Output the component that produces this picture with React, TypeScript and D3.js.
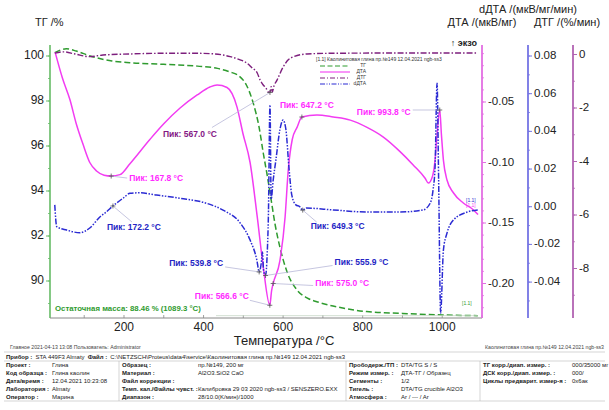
import React from 'react';
import * as d3 from 'd3';

type P = [number, number];

// ТГ, % (temperature °C, value)
const tgPoints: P[] = [
  [26, 100.15], [55, 100.32], [80, 100.22], [115, 100.0], [170, 99.78], [215, 99.7],
  [300, 99.63], [385, 99.55], [435, 99.45], [465, 99.3], [490, 99.1], [508, 98.7],
  [525, 97.9], [540, 96.8], [550, 95.7], [560, 94.7], [570, 93.6], [580, 92.5],
  [592, 91.5], [610, 90.4], [635, 89.6], [660, 89.25], [690, 89.05], [750, 88.8],
  [810, 88.64], [900, 88.56], [1000, 88.49], [1089.3, 88.46],
];

// ДТА, мкВ/мг
const dtaPoints: P[] = [
  [27, -0.009], [45, -0.03], [64, -0.048], [80, -0.068], [97, -0.085], [114, -0.1],
  [131, -0.107], [150, -0.1105], [167.8, -0.1112], [190, -0.11], [215, -0.101],
  [265, -0.081], [300, -0.068], [341, -0.055], [384, -0.0442], [416, -0.0376],
  [434, -0.036], [459, -0.038], [484, -0.054], [499, -0.076], [517, -0.1],
  [535, -0.145], [550, -0.186], [566.6, -0.218], [571, -0.206], [575, -0.2],
  [592, -0.181], [605, -0.145], [613, -0.106], [623, -0.081], [635, -0.071],
  [647.2, -0.0624], [685, -0.0607], [726, -0.0624], [769, -0.065], [811, -0.071],
  [852, -0.079], [894, -0.091], [927, -0.102], [957, -0.113], [965, -0.117],
  [975, -0.112], [982, -0.098], [987, -0.077], [993.8, -0.0566], [998, -0.077],
  [1003, -0.098], [1012, -0.1145], [1028, -0.125], [1053, -0.1335], [1078, -0.139],
  [1090, -0.143],
];

// ДТГ, %/мин
const dtgPoints: P[] = [
  [26, 0.05], [47, 0.1], [77, 0.02], [114, -0.08], [147, -0.02], [215, 0.02],
  [298, 0.045], [384, 0.045], [429, 0.02], [467, -0.08], [492, -0.2], [509, -0.32],
  [522, -0.5], [535, -0.69], [542, -0.95], [550, -1.14], [557, -1.25], [562, -1.4],
  [567, -1.42], [570, -1.2], [573, -1.4], [577, -1.18], [585, -0.95], [600, -0.47],
  [613, -0.2], [625, -0.09], [660, 0.02], [718, 0.045], [894, 0.056], [1090, 0.056],
];

// dДТА, мкВ/мг/мин
const ddtaPoints: P[] = [
  [26, 0.001], [31, -0.0106], [56, -0.0124], [89, -0.0138], [114, -0.0113],
  [140, -0.0053], [156, -0.0027], [172.2, 0.0004], [198, 0.0046], [215, 0.0071],
  [240, 0.0074], [282, 0.0062], [341, 0.0045], [408, 0.0018], [449, -0.0018],
  [492, -0.0086], [517, -0.0177], [534, -0.0283], [539.8, -0.0346], [545, -0.03],
  [548, -0.024], [551, -0.034], [555.9, -0.0365], [560, -0.025], [563, -0.005],
  [567, 0.054], [570, 0.004], [575, 0.014], [582, 0.025], [592, 0.041], [600, 0.046],
  [607, 0.041], [615, 0.02], [622, 0.006], [632, 0.001], [642, 0.0], [649.3, -0.0018],
  [658, -0.0007], [726, -0.0017], [811, -0.0028], [894, -0.0028], [952, -0.0017],
  [970, 0.002], [977, 0.009], [982, 0.021], [987, 0.0656], [991, 0.014],
  [996, -0.0564], [1003, -0.023], [1012, -0.014], [1028, -0.0071], [1063, -0.0028],
  [1090, -0.0017],
];

const dtaPeaks = [167.8, 566.6, 575.0, 647.2, 993.8];
const ddtaPeaks = [172.2, 539.8, 555.9, 649.3];
const dtgPeaks = [567.0];
const residualMass = { value: 88.46, temp: 1089.3 };

const xTickLabels = [200, 400, 600, 800, 1000];
const xTicks = [100, 200, 300, 400, 500, 600, 700, 800, 900, 1000, 1100];
const tgTicks = [90, 92, 94, 96, 98, 100];
const dtaTicks = [-0.2, -0.15, -0.1, -0.05];
const ddtaTicks = [-0.04, -0.02, 0.0, 0.02, 0.04, 0.06, 0.08];
const dtgTicks = [-8, -6, -4, -2, 0];

const legendTitle = '[1.1] Каолинитовая глина пр.№149   12.04.2021 ngb-ss3';
const legendNames = ['ТГ', 'ДТА', 'ДТГ', 'dДТА'];

const footerLeft = 'Главное   2021-04-13 13:08   Пользователь: Administrator';
const footerRight = 'Каолинитовая глина пр.№149   12.04.2021 ngb-ss3';
const deviceRow = ['Прибор :', 'STA 449F3 Almaty', 'Файл :', 'C:\\NETZSCH\\Proteus\\data4\\service\\Каолинитовая глина пр.№149   12.04.2021 ngb-ss3'];
const col1Labels = ['Проект :', 'Код образца :', 'Дата/время :', 'Лаборатория :', 'Оператор :'];
const col1Values = ['Глина', 'Глина каолин', '12.04.2021 10:23:08', 'Almaty', 'Марина'];
const col2Labels = ['Образец :', 'Материал :', 'Файл коррекции :', 'Темп. кал./Файлы чувст. :', 'Диапазон :'];
const col2Values = ['пр.№149, 200 мг', 'Al2O3.SiO2 CaO', '', 'Калибровка 29 03 2020 ngb-ss3 / SENSZERO.EXX', '28/10.0(K/мин)/1000'];
const col3Labels = ['Прободерж./ТП :', 'Режим измер. :', 'Сегменты :', 'Тигель :', 'Атмосфера :'];
const col3Values = ['DTA/TG S / S', 'ДТА-ТГ / Образец', '1/2', 'DTA/TG crucible Al2O3', 'Ar / --- / Ar'];
const col4Labels = ['ТГ корр./диап. измер. :', 'ДСК корр./диап. измер. :', 'Циклы предварит. измер-я :'];
const col4Values = ['000/35000 мг', '000/', '0х6ак'];

const C = {
  tg: '#2f9b2f',
  dta: '#f23cf2',
  dtg: '#7d1f7d',
  ddta: '#2b2bd3',
  tgAxis: '#66bb66',
  dtaAxis: '#e36ee3',
  ddtaAxis: '#7474e4',
  dtgAxis: '#b263b2',
  dtaLbl: '#ff2bff',
  ddtaLbl: '#2424c4',
  dtgLbl: '#841684',
  leader: '#b8b8d8',
};

const FONT = 'Liberation Sans, Arial, Helvetica, sans-serif';
const top = 45;
const bottom = 318;

const x = d3.scaleLinear().domain([14, 1100]).range([50, 482]);
const yTG = d3.scaleLinear().domain([90, 100]).range([281, 56]);
const yDTA = d3.scaleLinear().domain([-0.2, -0.05]).range([283.5, 102]);
const yDD = d3.scaleLinear().domain([-0.04, 0.08]).range([282.1, 56]);
const yDTG = d3.scaleLinear().domain([-8, 0]).range([268.5, 54.5]);

function at(points: P[], t: number): number {
  const i = d3.bisector((d: P) => d[0]).left(points, t);
  if (i <= 0) return points[0][1];
  if (i >= points.length) return points[points.length - 1][1];
  const a = points[i - 1], b = points[i];
  if (b[0] === t) return b[1];
  return a[1] + ((t - a[0]) / (b[0] - a[0])) * (b[1] - a[1]);
}

const pathFor = (pts: P[], ys: d3.ScaleLinear<number, number>) =>
  d3.line<P>().x(d => x(d[0])).y(d => ys(d[1])).curve(d3.curveMonotoneX)(pts) || '';

const fmt2 = (v: number) => v.toFixed(2).replace('−', '-');

// label placement relative to the marked peak: dx, dy, anchor, leader end
const peakLayout: Record<string, { dx: number; dy: number; anchor: string; lx: number; ly: number }> = {
  'dta167.8': { dx: 18, dy: 3, anchor: 'start', lx: 16, ly: 2 },
  'dta566.6': { dx: -21, dy: -9, anchor: 'end', lx: -20, ly: -5 },
  'dta575': { dx: 42, dy: 0, anchor: 'start', lx: 40, ly: 2 },
  'dta647.2': { dx: -22, dy: -11, anchor: 'start', lx: 0, ly: 0 },
  'dta993.8': { dx: -29, dy: 3, anchor: 'end', lx: -27, ly: 0 },
  'dtg567': { dx: -107, dy: 42, anchor: 'start', lx: -58, ly: 35 },
  'ddta172.2': { dx: -6, dy: 22, anchor: 'start', lx: 19, ly: 16 },
  'ddta539.8': { dx: -36, dy: -8, anchor: 'end', lx: -34, ly: -5 },
  'ddta555.9': { dx: 69, dy: -13, anchor: 'start', lx: 67, ly: -10 },
  'ddta649.3': { dx: 8, dy: 17, anchor: 'start', lx: 14, ly: 12 },
};

function Peak({ id, t, points, ys, color }: { id: string; t: number; points: P[]; ys: d3.ScaleLinear<number, number>; color: string }) {
  const px = x(t);
  const py = ys(at(points, t));
  const L = peakLayout[id];
  return (
    <g>
      {(L.lx !== 0 || L.ly !== 0) && (
        <line x1={px} y1={py} x2={px + L.lx} y2={py + L.ly} stroke={C.leader} strokeWidth={0.8} />
      )}
      <path d={`M${px - 2.5},${py}H${px + 2.5}M${px},${py - 2.5}V${py + 2.5}`} stroke="#555" strokeWidth={0.8} />
      <text x={px + L.dx} y={py + L.dy} textAnchor={L.anchor} dominantBaseline="middle"
        fontSize={8.5} fontWeight="bold" fill={color}>
        {`Пик: ${t.toFixed(1)} °C`}
      </text>
    </g>
  );
}

function RightAxis({ ax, scale, ticks, minorStep, color }: { ax: number; scale: d3.ScaleLinear<number, number>; ticks: number[]; minorStep: number; color: string }) {
  const dom = [scale.invert(bottom), scale.invert(top)];
  const minor = d3.range(Math.ceil(dom[0] / minorStep) * minorStep, dom[1], minorStep);
  const dec = minorStep < 0.1 ? 2 : 0;
  return (
    <g>
      <line x1={ax} y1={top} x2={ax} y2={bottom} stroke={color} strokeWidth={1.8} />
      {minor.map((m, i) => (
        <line key={'m' + i} x1={ax} x2={ax + 2} y1={scale(m)} y2={scale(m)} stroke={color} strokeWidth={0.8} />
      ))}
      {ticks.map(t => (
        <g key={t}>
          <line x1={ax} x2={ax + 4} y1={scale(t)} y2={scale(t)} stroke={color} strokeWidth={1} />
          <text x={ax + 6} y={scale(t)} dominantBaseline="middle" fontSize={11.5} fill="#222">
            {dec ? fmt2(t) : String(t)}
          </text>
        </g>
      ))}
    </g>
  );
}

export default function App() {
  const tgMinor = d3.range(89, 101, 1);
  const legendStyles = [
    { c: C.tg, dash: '5,2.5' },
    { c: C.dta, dash: '' },
    { c: C.dtg, dash: '5,2,1,2' },
    { c: C.ddta, dash: '5,1.5,1,1.5,1,1.5' },
  ];
  const endT = residualMass.temp;
  const rows = [365, 373, 381, 389, 397];

  return (
    <div style={{ position: 'absolute', left: 0, top: 0 }}>
      <svg width={609} height={410} style={{ display: 'block', background: '#fff' }} fontFamily={FONT}>
        <defs>
          <clipPath id="plot">
            <rect x={50} y={top - 5} width={433} height={bottom - top + 5} />
          </clipPath>
        </defs>

        {/* axis titles */}
        <text x={35} y={26} fontSize={11} fill="#222">ТГ /%</text>
        <text x={528} y={13} fontSize={11} textAnchor="middle" fill="#222">dДТА /(мкВ/мг/мин)</text>
        <text x={482} y={26} fontSize={11} textAnchor="middle" fill="#222">ДТА /(мкВ/мг)</text>
        <text x={567} y={26} fontSize={11} textAnchor="middle" fill="#222">ДТГ /(%/мин)</text>
        <text x={477} y={46} fontSize={9} fontWeight="bold" textAnchor="end" fill="#222">↑ экзо</text>

        {/* left axis */}
        <line x1={50} y1={top} x2={50} y2={bottom} stroke={C.tgAxis} strokeWidth={1.6} />
        {tgMinor.map(m => (
          <line key={m} x1={48} x2={50} y1={yTG(m)} y2={yTG(m)} stroke={C.tgAxis} strokeWidth={0.8} />
        ))}
        {tgTicks.map(t => (
          <g key={t}>
            <line x1={46} x2={50} y1={yTG(t)} y2={yTG(t)} stroke={C.tgAxis} />
            <text x={44} y={yTG(t)} textAnchor="end" dominantBaseline="middle" fontSize={12} fill="#222">{t}</text>
          </g>
        ))}

        {/* bottom axis */}
        <line x1={50} y1={bottom} x2={482} y2={bottom} stroke="#888" strokeWidth={1} />
        {xTicks.map(t => (
          <line key={t} x1={x(t)} x2={x(t)} y1={bottom} y2={bottom - 3} stroke="#888" strokeWidth={0.8} />
        ))}
        {xTickLabels.map(t => (
          <text key={t} x={x(t)} y={328} textAnchor="middle" dominantBaseline="middle" fontSize={12} fill="#222">{t}</text>
        ))}
        <text x={284} y={342} textAnchor="middle" dominantBaseline="middle" fontSize={13} fill="#222">Температура /°C</text>

        {/* right axes */}
        <RightAxis ax={482} scale={yDTA} ticks={dtaTicks} minorStep={0.01} color={C.dtaAxis} />
        <RightAxis ax={528} scale={yDD} ticks={ddtaTicks} minorStep={0.01} color={C.ddtaAxis} />
        <RightAxis ax={573} scale={yDTG} ticks={dtgTicks} minorStep={1} color={C.dtgAxis} />

        {/* legend */}
        <text x={316} y={61} fontSize={5} fill="#333">{legendTitle}</text>
        {legendNames.map((n, i) => (
          <g key={n}>
            <line x1={320} x2={350} y1={66 + i * 6} y2={66 + i * 6} stroke={legendStyles[i].c}
              strokeWidth={1.1} strokeDasharray={legendStyles[i].dash} />
            <text x={366} y={66 + i * 6} textAnchor="end" dominantBaseline="middle" fontSize={5} fill="#333">{n}</text>
          </g>
        ))}

        {/* curves */}
        <g clipPath="url(#plot)" fill="none">
          <path d={pathFor(tgPoints, yTG)} stroke={C.tg} strokeWidth={1.5} strokeDasharray="6,3" />
          <path d={pathFor(dtaPoints, yDTA)} stroke={C.dta} strokeWidth={1.5} />
          <path d={pathFor(dtgPoints, yDTG)} stroke={C.dtg} strokeWidth={1.4} strokeDasharray="6,2,1.5,2" />
          <path d={pathFor(ddtaPoints, yDD)} stroke={C.ddta} strokeWidth={1.5} strokeDasharray="6,1.5,1.5,1.5,1.5,1.5" />
        </g>

        {/* curve end tags */}
        <text x={x(1090) - 12} y={yDD(at(ddtaPoints, 1090)) - 8} fontSize={5} fill={C.ddta}>[1.1]</text>
        <text x={x(1090) - 12} y={yDTA(at(dtaPoints, 1090)) - 8} fontSize={5} fill={C.dta}>[1.1]</text>
        <text x={x(1090) - 16} y={yTG(at(tgPoints, 1089)) - 11} fontSize={5} fill={C.tg}>[1.1]</text>

        {/* peaks */}
        {dtaPeaks.map(t => (
          <Peak key={'a' + t} id={'dta' + t} t={t} points={dtaPoints} ys={yDTA} color={C.dtaLbl} />
        ))}
        {ddtaPeaks.map(t => (
          <Peak key={'d' + t} id={'ddta' + t} t={t} points={ddtaPoints} ys={yDD} color={C.ddtaLbl} />
        ))}
        {dtgPeaks.map(t => (
          <Peak key={'g' + t} id={'dtg' + t} t={t} points={dtgPoints} ys={yDTG} color={C.dtgLbl} />
        ))}

        {/* residual mass */}
        <line x1={216} x2={x(endT)} y1={yTG(residualMass.value)} y2={yTG(residualMass.value)} stroke="#c8d8c8" strokeWidth={0.8} />
        <text x={55} y={309} dominantBaseline="middle" fontSize={7.8} fontWeight="bold" fill={C.tg}>
          {`Остаточная масса: ${residualMass.value.toFixed(2)} % (${endT.toFixed(1)} °C)`}
        </text>

        {/* footer */}
        <text x={10} y={349} fontSize={5.2} fill="#444">{footerLeft}</text>
        <text x={604} y={349} fontSize={5.2} textAnchor="end" fill="#444">{footerRight}</text>

        <g fontSize={6} fill="#222">
          <line x1={4} x2={605} y1={352} y2={352} stroke="#bbb" strokeWidth={0.6} />
          <line x1={4} x2={605} y1={361} y2={361} stroke="#bbb" strokeWidth={0.6} />
          <line x1={4} x2={605} y1={401} y2={401} stroke="#bbb" strokeWidth={0.6} />
          {[119, 346, 480].map(v => (
            <line key={v} x1={v} x2={v} y1={361} y2={401} stroke="#bbb" strokeWidth={0.6} />
          ))}
          <text x={6} y={357} dominantBaseline="middle">
            <tspan fontWeight="bold">{deviceRow[0]}</tspan>
            <tspan dx={3}>{deviceRow[1]}</tspan>
            <tspan dx={3} fontWeight="bold">{deviceRow[2]}</tspan>
            <tspan dx={3}>{deviceRow[3]}</tspan>
          </text>
          {col1Labels.map((l, i) => (
            <g key={l}>
              <text x={6} y={rows[i]} dominantBaseline="middle" fontWeight="bold">{l}</text>
              <text x={52} y={rows[i]} dominantBaseline="middle">{col1Values[i]}</text>
            </g>
          ))}
          {col2Labels.map((l, i) => (
            <g key={l}>
              <text x={122} y={rows[i]} dominantBaseline="middle" fontWeight="bold">{l}</text>
              <text x={198} y={rows[i]} dominantBaseline="middle">{col2Values[i]}</text>
            </g>
          ))}
          {col3Labels.map((l, i) => (
            <g key={l}>
              <text x={349} y={rows[i]} dominantBaseline="middle" fontWeight="bold">{l}</text>
              <text x={401} y={rows[i]} dominantBaseline="middle">{col3Values[i]}</text>
            </g>
          ))}
          {col4Labels.map((l, i) => (
            <g key={l}>
              <text x={483} y={rows[i]} dominantBaseline="middle" fontWeight="bold">{l}</text>
              <text x={572} y={rows[i]} dominantBaseline="middle">{col4Values[i]}</text>
            </g>
          ))}
        </g>
      </svg>
    </div>
  );
}
